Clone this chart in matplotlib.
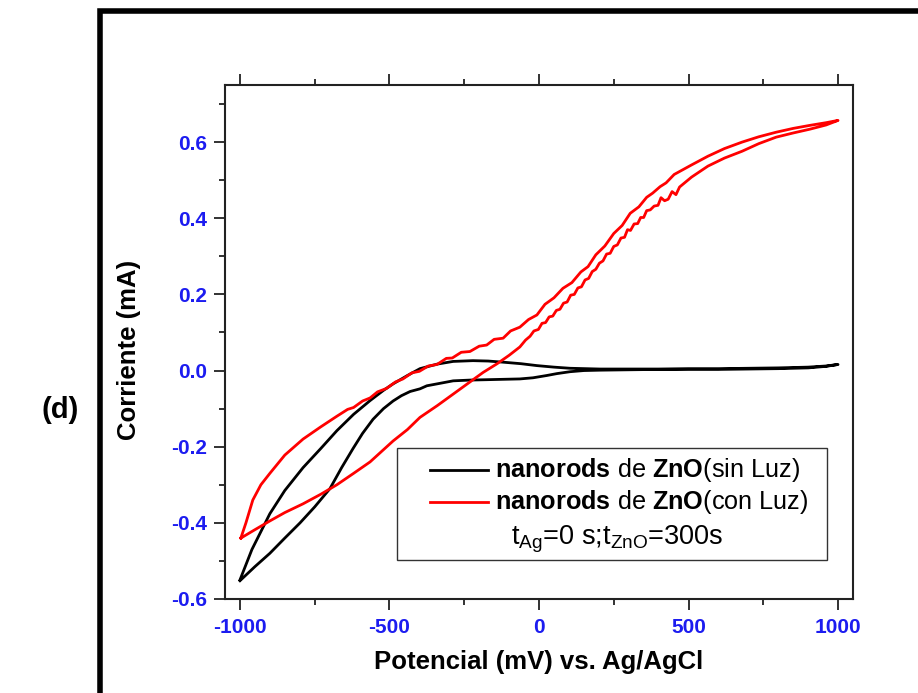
import matplotlib
matplotlib.use("Agg")
import matplotlib.pyplot as plt
from matplotlib.patches import Rectangle
from matplotlib.lines import Line2D
from matplotlib.ticker import MultipleLocator, FixedLocator, FormatStrFormatter

plt.rcParams['font.family'] = ['Liberation Sans', 'DejaVu Sans']
plt.rcParams['axes.unicode_minus'] = False
plt.rcParams['mathtext.fontset'] = 'custom'
plt.rcParams['mathtext.rm'] = 'Liberation Sans'
plt.rcParams['mathtext.bf'] = 'Liberation Sans:bold'
plt.rcParams['mathtext.it'] = 'Liberation Sans:italic'

# ---- cyclic voltammetry data: potential (mV) vs Ag/AgCl, current (mA) ----
# ZnO nanorods in the dark: anodic sweep (-1000 -> 1000), then cathodic sweep back
dark_E = [-1000, -960, -900, -850, -789, -730, -676, -620, -565, -520, -488, -440,
          -398, -340, -287, -221, -170, -120, -60, -7, 50, 104, 204, 300, 400, 500,
          600, 700, 800, 900, 960, 1000,
          960, 900, 800, 700, 600, 500, 400, 300, 204, 150, 104, 60, 26, -20, -64,
          -120, -174, -230, -287, -341, -375, -398, -431, -460, -488, -520, -555,
          -590, -622, -660, -699, -750, -799, -850, -900, -950, -1000]
dark_I = [-0.550, -0.470, -0.376, -0.315, -0.255, -0.205, -0.158, -0.115, -0.079, -0.052,
          -0.035, -0.013, 0.005, 0.017, 0.024, 0.026, 0.025, 0.022, 0.018, 0.013, 0.009,
          0.006, 0.004, 0.004, 0.004, 0.005, 0.005, 0.006, 0.007, 0.009, 0.012, 0.016,
          0.011, 0.007, 0.005, 0.004, 0.003, 0.003, 0.003, 0.002, 0.001, 0.000, -0.003,
          -0.008, -0.013, -0.019, -0.022, -0.023, -0.024, -0.025, -0.027, -0.035, -0.040,
          -0.048, -0.055, -0.066, -0.080, -0.100, -0.128, -0.165, -0.205, -0.255, -0.310,
          -0.358, -0.400, -0.440, -0.480, -0.515, -0.552]

# ZnO nanorods under illumination
light_E = [-997, -980, -957, -930, -900, -850, -789, -730, -676, -640, -620, -590, -565,
           -540, -510, -480, -455, -425, -400, -370, -341, -310, -290, -260, -231, -200,
           -175, -150, -120, -95, -64, -35, -7, 20, 50, 80, 110, 140, 164, 190, 220, 250,
           278, 305, 334, 360, 380, 405, 425, 452, 510, 565, 620, 679, 735, 793, 850,
           906, 960, 1000,
           960, 906, 850, 793, 735, 679, 620, 565, 510, 470, 458, 445, 432, 420, 408,
           398, 385, 372, 360, 350, 340, 330, 318, 306, 296, 286, 274, 262, 250, 238,
           226, 214, 202, 190, 178, 166, 154, 142, 130, 118, 106, 94, 82, 70, 58, 46,
           34, 22, 10, -2, -17, -30, -45, -64, -100, -140, -187, -231, -287, -340,
           -398, -440, -488, -530, -565, -620, -676, -730, -789, -850, -900, -950, -997]
light_I = [-0.440, -0.400, -0.340, -0.300, -0.270, -0.222, -0.180, -0.148, -0.120, -0.102,
           -0.097, -0.080, -0.072, -0.056, -0.047, -0.030, -0.022, -0.006, -0.002, 0.012,
           0.016, 0.032, 0.033, 0.048, 0.050, 0.064, 0.067, 0.082, 0.085, 0.104, 0.114,
           0.134, 0.146, 0.174, 0.191, 0.216, 0.231, 0.259, 0.273, 0.304, 0.327, 0.360,
           0.381, 0.413, 0.430, 0.455, 0.466, 0.483, 0.493, 0.515, 0.540, 0.563, 0.583,
           0.600, 0.614, 0.626, 0.636, 0.644, 0.651, 0.657,
           0.645, 0.634, 0.624, 0.613, 0.596, 0.576, 0.558, 0.537, 0.508, 0.482, 0.462,
           0.470, 0.450, 0.446, 0.454, 0.434, 0.432, 0.422, 0.420, 0.402, 0.402, 0.386,
           0.385, 0.368, 0.370, 0.350, 0.348, 0.330, 0.326, 0.308, 0.306, 0.288, 0.282,
           0.266, 0.260, 0.242, 0.238, 0.220, 0.217, 0.200, 0.198, 0.180, 0.177, 0.161,
           0.158, 0.143, 0.141, 0.126, 0.124, 0.108, 0.104, 0.090, 0.080, 0.062, 0.040,
           0.018, -0.005, -0.030, -0.062, -0.092, -0.123, -0.155, -0.185, -0.215, -0.240,
           -0.270, -0.300, -0.325, -0.350, -0.373, -0.395, -0.418, -0.440]

x_major = [-1000, -500, 0, 500, 1000]
y_major = [-0.6, -0.4, -0.2, 0.0, 0.2, 0.4, 0.6]

legend_dark = r'$\mathbf{nanorods}$ de $\mathbf{ZnO}$(sin Luz)'
legend_light = r'$\mathbf{nanorods}$ de $\mathbf{ZnO}$(con Luz)'
legend_note = r'$\mathrm{t}_{\mathrm{Ag}}$=0 s;$\mathrm{t}_{\mathrm{ZnO}}$=300s'

W, H = 918, 693
fig = plt.figure(figsize=(W / 100, H / 100), dpi=100)
ax = fig.add_axes([225 / W, 1 - 599 / H, 628 / W, 514 / H])

ax.plot(dark_E, dark_I, color='black', lw=2.0, solid_joinstyle='round')
ax.plot(light_E, light_I, color='#ff0000', lw=2.0, solid_joinstyle='round')

ax.set_xlim(-1050, 1050)
ax.set_ylim(-0.6, 0.75)
ax.xaxis.set_major_locator(FixedLocator(x_major))
ax.xaxis.set_minor_locator(MultipleLocator(250))
ax.yaxis.set_major_locator(FixedLocator(y_major))
ax.yaxis.set_minor_locator(MultipleLocator(0.1))
ax.xaxis.set_major_formatter(FormatStrFormatter('%d'))
ax.yaxis.set_major_formatter(FormatStrFormatter('%.1f'))

ax.tick_params(which='both', direction='out', top=True, right=False, labeltop=False,
               width=1.3, color='#222222')
ax.tick_params(which='major', length=8)
ax.tick_params(which='minor', length=4.3)
ax.tick_params(axis='y', which='major', pad=5)
ax.tick_params(axis='x', which='major', pad=6)
for lab in ax.get_xticklabels() + ax.get_yticklabels():
    lab.set_fontsize(15)
    lab.set_fontweight('bold')
    lab.set_color('#1c1cf0')
for sp in ax.spines.values():
    sp.set_linewidth(1.5)
    sp.set_color('#222222')

ax.set_xlabel('Potencial (mV) vs. Ag/AgCl', fontsize=18.5, fontweight='bold')
ax.set_ylabel('Corriente (mA)', fontsize=18.5, fontweight='bold')
ax.xaxis.set_label_coords(0.5, -0.100)
ax.yaxis.set_label_coords(-0.133, 0.484)

# legend box
ax.add_patch(Rectangle((0.274, 0.076), 0.685, 0.218, transform=ax.transAxes,
                       fill=False, edgecolor='#333333', lw=1.0, zorder=5))
ax.add_line(Line2D([0.326, 0.419], [0.251, 0.251], transform=ax.transAxes,
                   color='black', lw=2.0, zorder=6))
ax.add_line(Line2D([0.326, 0.419], [0.189, 0.189], transform=ax.transAxes,
                   color='#ff0000', lw=2.0, zorder=6))
ax.text(0.430, 0.251, legend_dark, transform=ax.transAxes, fontsize=18.2,
        ha='left', va='center', zorder=6)
ax.text(0.430, 0.189, legend_light, transform=ax.transAxes, fontsize=18.2,
        ha='left', va='center', zorder=6)
ax.text(0.624, 0.117, legend_note, transform=ax.transAxes, fontsize=19.5,
        ha='center', va='center', zorder=6)

# panel frame and label
fig.add_artist(Rectangle((100 / W, -0.2), 1.0, 1 - 10.5 / H + 0.2,
                         transform=fig.transFigure, fill=False,
                         edgecolor='black', lw=4))
fig.text(60 / W, 1 - 410 / H, '(d)', fontsize=21, fontweight='bold',
         ha='center', va='center')

fig.savefig('out.png', dpi=100)
